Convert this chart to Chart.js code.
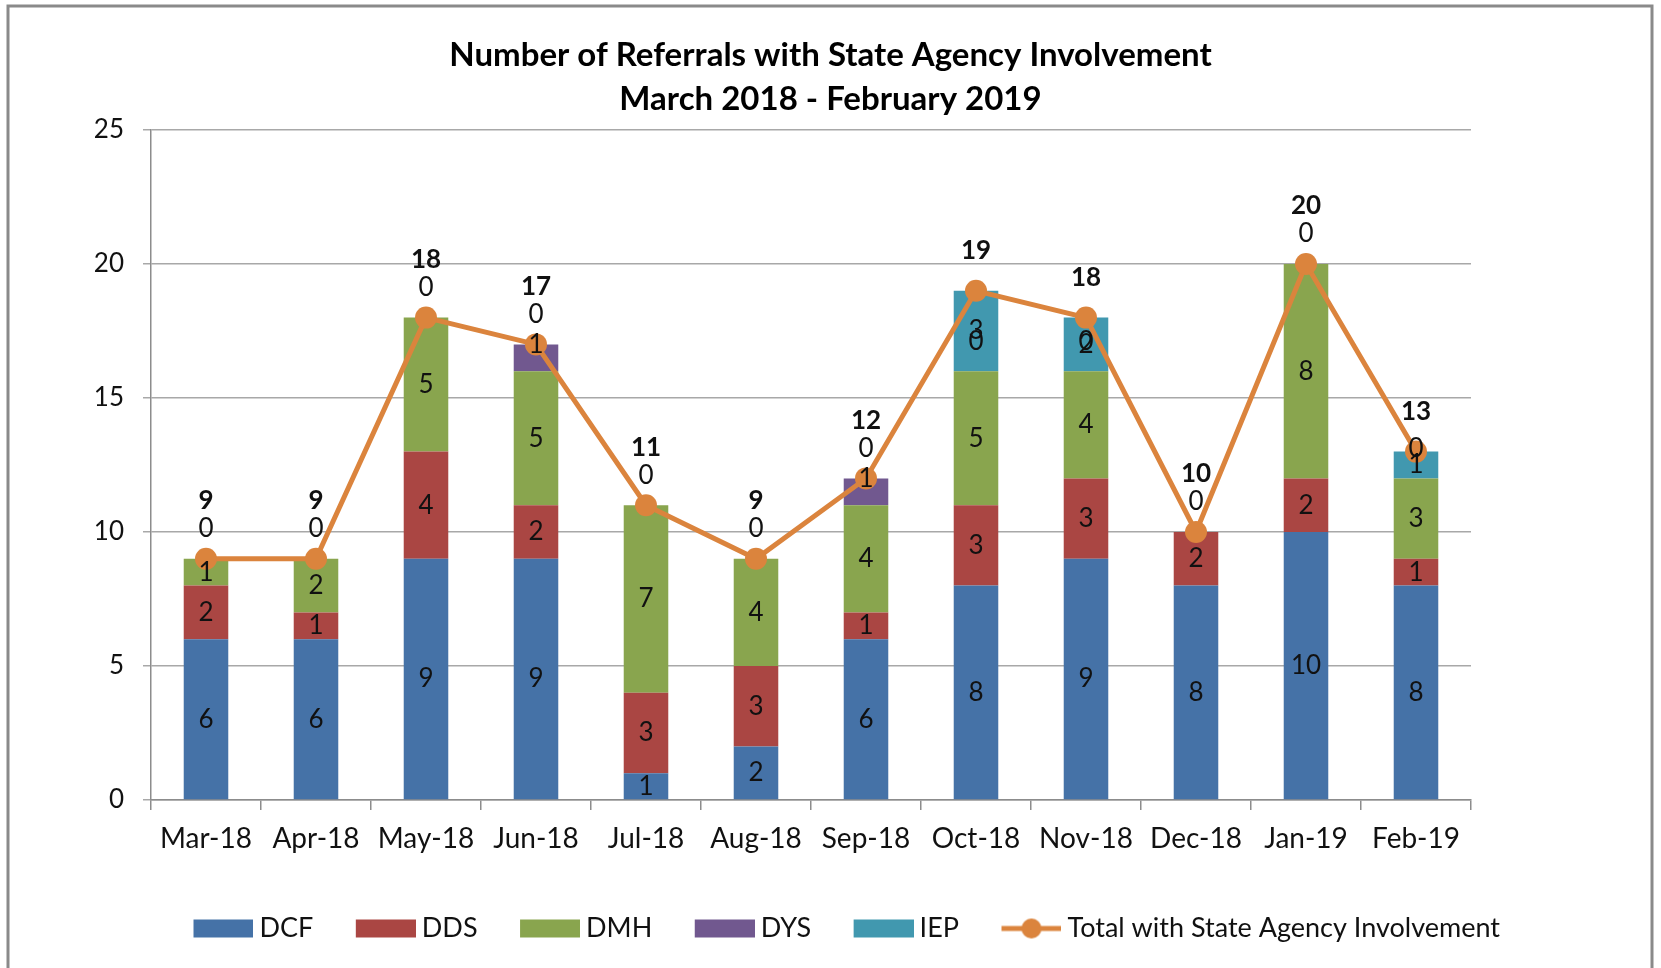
<!DOCTYPE html>
<html>
<head>
<meta charset="utf-8">
<script src="https://cdn.jsdelivr.net/npm/chart.js@4.4.0/dist/chart.umd.min.js"></script>
<style>
  html, body { margin: 0; padding: 0; background: #fff; }
  #chart { display: block; }
</style>
</head>
<body>
<canvas id="chart" width="1661" height="968"></canvas>
<script>
// data
var months = ['Mar-18', 'Apr-18', 'May-18', 'Jun-18', 'Jul-18', 'Aug-18', 'Sep-18', 'Oct-18', 'Nov-18', 'Dec-18', 'Jan-19', 'Feb-19'];
var dcf = [6, 6, 9, 9, 1, 2, 6, 8, 9, 8, 10, 8];
var dds = [2, 1, 4, 2, 3, 3, 1, 3, 3, 2, 2, 1];
var dmh = [1, 2, 5, 5, 7, 4, 4, 5, 4, 0, 8, 3];
var dys = [0, 0, 0, 1, 0, 0, 1, 0, 0, 0, 0, 0];
var iep = [0, 0, 0, 0, 0, 0, 0, 3, 2, 0, 0, 1];
var totals = [9, 9, 18, 17, 11, 9, 12, 19, 18, 10, 20, 13];
var yTicks = [0, 5, 10, 15, 20, 25];

var colors = {
    DCF: '#4572A7',
    DDS: '#AA4643',
    DMH: '#89A54E',
    DYS: '#71588F',
    IEP: '#4198AF',
    total: '#DB843D'
};
var fontName = 'Lato';

// legend swatches (rect for bars, line + dot for the total)
function swatch(color, isLine) {
    var c = document.createElement('canvas');
    c.width = 100;
    c.height = 26;
    var g = c.getContext('2d');
    if (isLine) {
        g.strokeStyle = color;
        g.lineWidth = 5;
        g.beginPath();
        g.moveTo(40, 13);
        g.lineTo(100, 13);
        g.stroke();
        g.fillStyle = color;
        g.beginPath();
        g.arc(70, 13, 10, 0, Math.PI * 2);
        g.fill();
    } else {
        g.fillStyle = color;
        g.fillRect(40, 4, 60, 18);
    }
    return c;
}

var frame = {
    id: 'frame',
    beforeDraw: function (chart) {
        var ctx = chart.ctx;
        ctx.save();
        ctx.fillStyle = '#fff';
        ctx.fillRect(0, 0, chart.width, chart.height);
        ctx.strokeStyle = '#8a8a8a';
        ctx.lineWidth = 3;
        ctx.beginPath();
        ctx.moveTo(8, 975);
        ctx.lineTo(8, 6);
        ctx.lineTo(1652, 6);
        ctx.lineTo(1652, 975);
        ctx.stroke();
        ctx.restore();
    }
};

var valueLabels = {
    id: 'valueLabels',
    afterDatasetsDraw: function (chart) {
        var ctx = chart.ctx;
        ctx.save();
        ctx.textAlign = 'center';
        ctx.textBaseline = 'middle';
        ctx.fillStyle = '#111';
        ctx.font = '26px ' + fontName;
        chart.data.datasets.forEach(function (ds, di) {
            if (ds.type === 'line') return;
            var meta = chart.getDatasetMeta(di);
            meta.data.forEach(function (bar, i) {
                var v = ds.data[i];
                var y;
                if (v === 0) {
                    if (ds.label === 'IEP') y = bar.y - 30;
                    else if (ds.label === 'DYS' && iep[i] > 0) y = bar.y - 30;
                    else return;
                } else if (ds.label === 'DYS') {
                    y = bar.y;
                } else {
                    y = (bar.y + bar.base) / 2;
                }
                ctx.fillText(String(v), bar.x, y);
            });
        });
        // totals, bold, above the line markers
        ctx.font = 'bold 26px ' + fontName;
        var li = chart.data.datasets.length - 1;
        chart.getDatasetMeta(li).data.forEach(function (pt, i) {
            var off = iep[i] === 0 ? 58 : 40;
            ctx.fillText(String(totals[i]), pt.x, pt.y - off);
        });
        ctx.restore();
    }
};

function barSet(label, data) {
    return {
        type: 'bar',
        label: label,
        data: data,
        backgroundColor: colors[label],
        borderWidth: 0,
        stack: 'agencies',
        order: 1,
        barPercentage: 0.405,
        categoryPercentage: 1
    };
}

new Chart(document.getElementById('chart'), {
    data: {
        labels: months,
        datasets: [
            barSet('DCF', dcf),
            barSet('DDS', dds),
            barSet('DMH', dmh),
            barSet('DYS', dys),
            barSet('IEP', iep),
            {
                type: 'line',
                label: 'Total with State Agency Involvement',
                data: totals,
                stack: 'total',
                order: 0,
                borderColor: colors.total,
                backgroundColor: colors.total,
                borderWidth: 5,
                pointRadius: 11,
                pointHoverRadius: 11,
                pointBackgroundColor: colors.total,
                pointBorderWidth: 0,
                tension: 0
            }
        ]
    },
    options: {
        responsive: false,
        animation: false,
        devicePixelRatio: 1,
        layout: { padding: { left: 0, right: 0, top: 0, bottom: 16 } },
        plugins: {
            tooltip: { enabled: false },
            title: {
                display: true,
                text: ['Number of Referrals with State Agency Involvement', 'March 2018 - February 2019'],
                color: '#000',
                font: { family: fontName, size: 33, weight: 'bold', lineHeight: 44 / 33 },
                padding: { top: 33, bottom: 9 }
            },
            legend: {
                position: 'bottom',
                labels: {
                    usePointStyle: true,
                    pointStyleWidth: 85,
                    padding: 10,
                    color: '#111',
                    font: { family: fontName, size: 27 },
                    sort: function (a, b) { return a.datasetIndex - b.datasetIndex; },
                    generateLabels: function (chart) {
                        return chart.data.datasets.map(function (ds, i) {
                            return {
                                text: ds.label,
                                datasetIndex: i,
                                pointStyle: swatch(ds.type === 'line' ? colors.total : colors[ds.label], ds.type === 'line'),
                                fillStyle: 'transparent',
                                strokeStyle: 'transparent',
                                lineWidth: 0,
                                fontColor: '#111'
                            };
                        });
                    }
                }
            }
        },
        scales: {
            x: {
                stacked: true,
                offset: true,
                grid: { offset: true, drawOnChartArea: false, drawTicks: true, tickLength: 10, color: '#8c8c8c', lineWidth: 1.5 },
                border: { color: '#8c8c8c', width: 1.5 },
                ticks: { color: '#111', font: { family: fontName, size: 28 }, padding: 12, maxRotation: 0, autoSkip: false },
                afterFit: function (s) { s.height = 105; }
            },
            y: {
                stacked: true,
                min: 0,
                max: 25,
                afterBuildTicks: function (s) { s.ticks = yTicks.map(function (v) { return { value: v }; }); },
                grid: { color: '#a8a8a8', lineWidth: 1.5, tickLength: 8 },
                border: { color: '#8c8c8c', width: 1.5 },
                ticks: { color: '#111', font: { family: fontName, size: 26 }, padding: 19 },
                afterFit: function (s) { s.width = 151; }
            },
            // empty right-hand axis that only reserves the margin right of the plot
            yRight: {
                position: 'right',
                display: true,
                grid: { display: false },
                border: { display: false },
                ticks: { display: false },
                afterFit: function (s) { s.width = 190; }
            }
        }
    },
    plugins: [frame, valueLabels]
});
</script>
</body>
</html>
